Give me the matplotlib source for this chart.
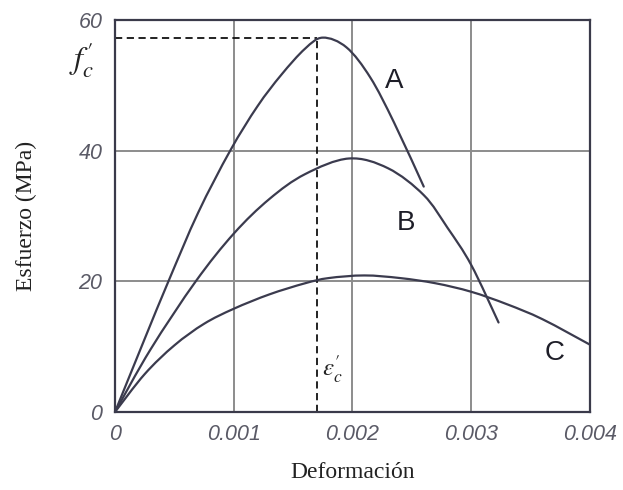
import matplotlib
matplotlib.use("Agg")
import matplotlib.pyplot as plt
from matplotlib.path import Path
from matplotlib.patches import PathPatch

# Stress-strain curves for three concretes (strain, stress in MPa)
strain_a = [0.0, 0.00025, 0.00045, 0.00070, 0.00097, 0.00120, 0.00140,
            0.00160, 0.00175, 0.00195, 0.00215, 0.00235, 0.00260]
stress_a = [0.0, 11.2, 20.0, 30.5, 40.0, 46.8, 51.6,
            55.6, 57.3, 55.8, 51.2, 44.3, 34.5]

strain_b = [0.0, 0.00030, 0.00068, 0.00100, 0.00130, 0.00160, 0.00197,
            0.00230, 0.00260, 0.00280, 0.00300, 0.00323]
stress_b = [0.0, 9.6, 20.0, 27.3, 32.6, 36.4, 38.8,
            37.3, 33.2, 28.2, 22.5, 13.7]

strain_c = [0.0, 0.00025, 0.00050, 0.00075, 0.00100, 0.00130, 0.00160, 0.00180,
            0.00210, 0.00240, 0.00270, 0.00300, 0.00330, 0.00360, 0.00400]
stress_c = [0.0, 5.8, 10.2, 13.5, 15.8, 18.0, 19.7, 20.5,
            20.9, 20.5, 19.7, 18.4, 16.5, 14.2, 10.3]

curve_names = ["A", "B", "C"]
name_pos_x = [0.00235, 0.00245, 0.00370]
name_pos_y = [50.7, 29.0, 9.0]

peak_strain = 0.0017
peak_stress = 57.3

x_ticks = [0, 0.001, 0.002, 0.003, 0.004]
x_tick_labels = ["0", "0.001", "0.002", "0.003", "0.004"]
y_ticks = [0, 20, 40, 60]
y_tick_labels = ["0", "20", "40", "60"]

plt.rcParams["mathtext.fontset"] = "stix"


def smooth_path(xs, ys):
    """Cubic Bezier path passing through every (x, y) point (Catmull-Rom)."""
    pts = list(zip(xs, ys))
    n = len(pts)
    verts = [pts[0]]
    codes = [Path.MOVETO]
    for i in range(n - 1):
        p0 = pts[i - 1] if i > 0 else pts[i]
        p1 = pts[i]
        p2 = pts[i + 1]
        p3 = pts[i + 2] if i + 2 < n else pts[i + 1]
        c1 = (p1[0] + (p2[0] - p0[0]) / 6.0, p1[1] + (p2[1] - p0[1]) / 6.0)
        c2 = (p2[0] - (p3[0] - p1[0]) / 6.0, p2[1] - (p3[1] - p1[1]) / 6.0)
        verts += [c1, c2, p2]
        codes += [Path.CURVE4] * 3
    return Path(verts, codes)


fig = plt.figure(figsize=(6.23, 4.90), dpi=100)
ax = fig.add_axes([0.1846, 0.1592, 0.7624, 0.80])

line_col = "#3b3b4e"
for sx, sy in [(strain_a, stress_a), (strain_b, stress_b), (strain_c, stress_c)]:
    ax.add_patch(PathPatch(smooth_path(sx, sy), facecolor="none",
                           edgecolor=line_col, lw=1.6, capstyle="round",
                           joinstyle="round", zorder=3))

for name, px, py in zip(curve_names, name_pos_x, name_pos_y):
    ax.text(px, py, name, fontsize=20, family="Liberation Sans",
            color="#1e1e28", ha="center", va="center", zorder=4)

# Peak markers: dashed guides to f'c and eps'c
ax.plot([0, peak_strain], [peak_stress, peak_stress], color="#111111",
        lw=1.3, ls=(0, (4, 2.5)), zorder=2)
ax.plot([peak_strain, peak_strain], [0, peak_stress], color="#111111",
        lw=1.3, ls=(0, (4, 2.5)), zorder=2)

ax.text(-0.00028, 54.0, r"$f_c^{\prime}$", fontsize=23, color="#222222",
        ha="center", va="center", clip_on=False)
ax.text(0.00183, 6.5, r"$\varepsilon_c^{\prime}$", fontsize=18, color="#222222",
        ha="center", va="center")

ax.set_xlim(0, 0.004)
ax.set_ylim(0, 60)
ax.set_xticks(x_ticks)
ax.set_xticklabels(x_tick_labels)
ax.set_yticks(y_ticks)
ax.set_yticklabels(y_tick_labels)
ax.tick_params(length=0, labelsize=15.5, labelcolor="#5a5a66")
ax.tick_params(axis="x", pad=9)
ax.tick_params(axis="y", pad=9)
for lbl in ax.get_xticklabels() + ax.get_yticklabels():
    lbl.set_fontfamily("Liberation Sans")
    lbl.set_fontstyle("italic")

ax.grid(True, color="#8c8c8c", lw=1.4, zorder=1)
ax.set_axisbelow(True)
for sp in ax.spines.values():
    sp.set_color("#3a3a4a")
    sp.set_linewidth(1.6)

ax.set_xlabel("Deformación", fontsize=17, family="Liberation Serif",
              color="#222222", labelpad=12)
ax.set_ylabel("Esfuerzo (MPa)", fontsize=17, family="Liberation Serif",
              color="#222222", labelpad=30)

fig.savefig("out.png", dpi=100, facecolor="white")
